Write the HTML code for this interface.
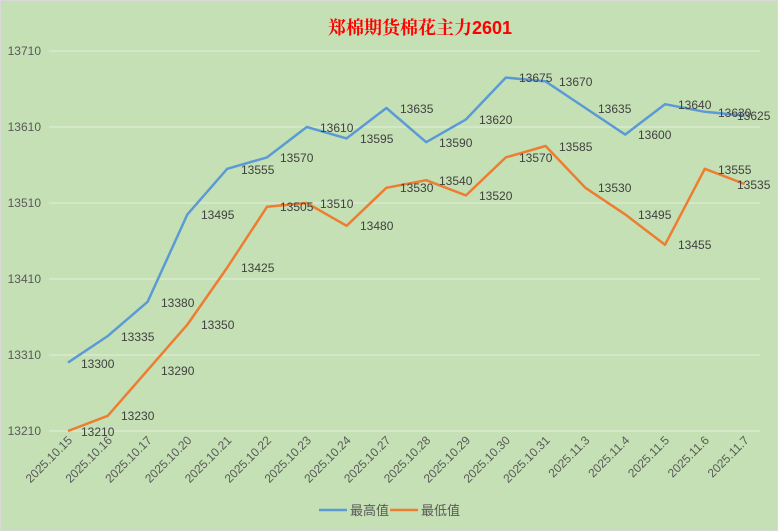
<!DOCTYPE html>
<html><head><meta charset="utf-8"><style>
html,body{margin:0;padding:0;background:#c5e0b4;}
svg{display:block;font-family:"Liberation Sans","Noto Sans CJK SC",sans-serif;}
</style></head><body>
<svg width="778" height="531" viewBox="0 0 778 531" xmlns="http://www.w3.org/2000/svg">
<rect x="0.5" y="0.5" width="777" height="530" fill="#c5e0b4" stroke="#d9d9d9"/>
<text x="420" y="34" text-anchor="middle" font-size="18" font-weight="bold" fill="#ff0000" font-family="'Liberation Sans','Noto Serif CJK SC',serif">郑棉期货棉花主力2601</text>
<g stroke="#e4eedc" stroke-width="1">
<line x1="49" y1="51" x2="760" y2="51"/><line x1="49" y1="127" x2="760" y2="127"/><line x1="49" y1="203" x2="760" y2="203"/><line x1="49" y1="279" x2="760" y2="279"/><line x1="49" y1="355" x2="760" y2="355"/><line x1="49" y1="431" x2="760" y2="431"/>
</g>
<g font-size="12" fill="#595959" text-anchor="end">
<text x="41" y="55">13710</text><text x="41" y="131">13610</text><text x="41" y="207">13510</text><text x="41" y="283">13410</text><text x="41" y="359">13310</text><text x="41" y="435">13210</text>
</g>
<polyline fill="none" stroke="#5b9bd5" stroke-width="2.5" stroke-linejoin="round" points="68,362.6 107.8,336 147.6,301.8 187.4,214.4 227.2,168.8 267,157.4 306.8,127 346.6,138.4 386.4,108 426.2,142.2 466,119.4 505.8,77.6 545.6,81.4 585.4,108 625.2,134.6 665,104.2 704.8,111.8 744.6,115.6"/>
<polyline fill="none" stroke="#ed7d31" stroke-width="2.5" stroke-linejoin="round" points="68,431 107.8,415.8 147.6,370.2 187.4,324.6 227.2,267.6 267,206.8 306.8,203 346.6,225.8 386.4,187.8 426.2,180.2 466,195.4 505.8,157.4 545.6,146 585.4,187.8 625.2,214.4 665,244.8 704.8,168.8 744.6,184"/>
<g font-size="12" fill="#404040">
<text x="81" y="368">13300</text><text x="121" y="341">13335</text><text x="161" y="307">13380</text><text x="201" y="219">13495</text><text x="241" y="174">13555</text><text x="280" y="162">13570</text><text x="320" y="132">13610</text><text x="360" y="143">13595</text><text x="400" y="113">13635</text><text x="439" y="147">13590</text><text x="479" y="124">13620</text><text x="519" y="82">13675</text><text x="559" y="86">13670</text><text x="598" y="113">13635</text><text x="638" y="139">13600</text><text x="678" y="109">13640</text><text x="718" y="117">13630</text><text x="737" y="120">13625</text>
<text x="81" y="436">13210</text><text x="121" y="420">13230</text><text x="161" y="375">13290</text><text x="201" y="329">13350</text><text x="241" y="272">13425</text><text x="280" y="211">13505</text><text x="320" y="208">13510</text><text x="360" y="230">13480</text><text x="400" y="192">13530</text><text x="439" y="185">13540</text><text x="479" y="200">13520</text><text x="519" y="162">13570</text><text x="559" y="151">13585</text><text x="598" y="192">13530</text><text x="638" y="219">13495</text><text x="678" y="249">13455</text><text x="718" y="174">13555</text><text x="737" y="189">13535</text>
</g>
<g font-size="12" fill="#595959" text-anchor="end">
<text transform="translate(73,441) rotate(-45)">2025.10.15</text>
<text transform="translate(112.8,441) rotate(-45)">2025.10.16</text>
<text transform="translate(152.6,441) rotate(-45)">2025.10.17</text>
<text transform="translate(192.4,441) rotate(-45)">2025.10.20</text>
<text transform="translate(232.2,441) rotate(-45)">2025.10.21</text>
<text transform="translate(272,441) rotate(-45)">2025.10.22</text>
<text transform="translate(311.8,441) rotate(-45)">2025.10.23</text>
<text transform="translate(351.6,441) rotate(-45)">2025.10.24</text>
<text transform="translate(391.4,441) rotate(-45)">2025.10.27</text>
<text transform="translate(431.2,441) rotate(-45)">2025.10.28</text>
<text transform="translate(471,441) rotate(-45)">2025.10.29</text>
<text transform="translate(510.8,441) rotate(-45)">2025.10.30</text>
<text transform="translate(550.6,441) rotate(-45)">2025.10.31</text>
<text transform="translate(590.4,441) rotate(-45)">2025.11.3</text>
<text transform="translate(630.2,441) rotate(-45)">2025.11.4</text>
<text transform="translate(670,441) rotate(-45)">2025.11.5</text>
<text transform="translate(709.8,441) rotate(-45)">2025.11.6</text>
<text transform="translate(749.6,441) rotate(-45)">2025.11.7</text>
</g>
<line x1="319" y1="510" x2="347" y2="510" stroke="#5b9bd5" stroke-width="2.5"/>
<text x="350" y="515" font-size="13" fill="#595959">最高值</text>
<line x1="390" y1="510" x2="418" y2="510" stroke="#ed7d31" stroke-width="2.5"/>
<text x="421" y="515" font-size="13" fill="#595959">最低值</text>
</svg>
</body></html>
